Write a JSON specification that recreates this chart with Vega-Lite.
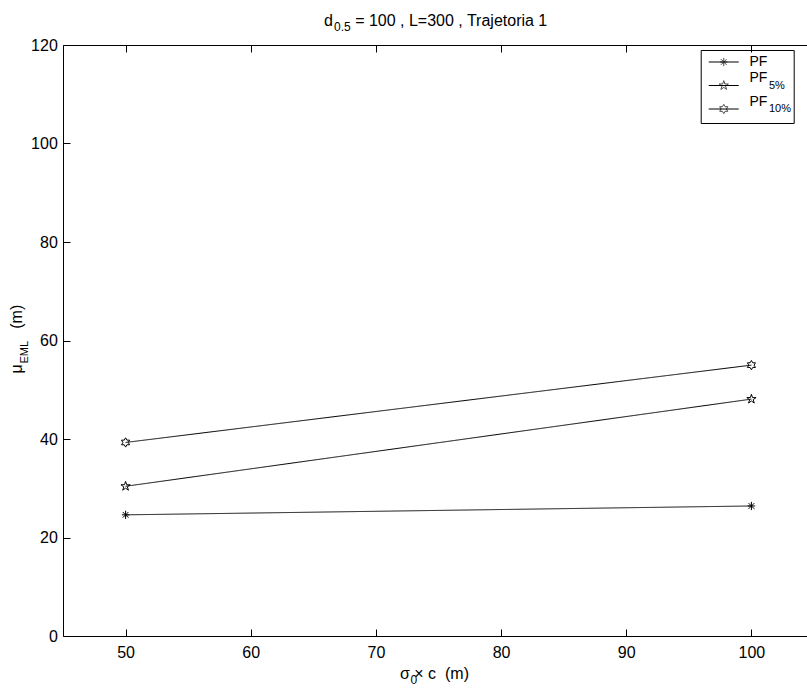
{
  "$schema": "https://vega.github.io/schema/vega-lite/v6.json",
  "width": 751,
  "height": 591,
  "autosize": {"type": "none"},
  "padding": {"left": 63, "top": 45, "right": 0, "bottom": 53},
  "background": "white",
  "config": {
    "font": "Liberation Sans",
    "view": {"stroke": "black", "strokeWidth": 1},
    "axis": {
      "grid": false, "domain": false, "tickColor": "black", "tickSize": -7, "tickWidth": 1,
      "labelColor": "black", "labelFont": "Liberation Sans", "labelFontSize": 16,
      "titleFont": "Liberation Sans", "titleFontSize": 16, "titleFontWeight": "normal", "titleColor": "black",
      "labelFlush": false, "labelOverlap": false
    },
    "legend": {
      "orient": "none", "legendX": 637.7, "legendY": 5, "title": null, "padding": 2,
      "symbolOffset": 11.05, "symbolSize": 342.25, "rowPadding": -0.5, "symbolStrokeWidth": 1,
      "symbolStrokeColor": "black", "symbolFillColor": "transparent",
      "labelFont": "Liberation Sans", "labelColor": "black", "labelBaseline": "middle",
      "labelFontSize": 14, "labelOffset": 15.75
    }
  },
  "title": {
    "text": "d\u00a0\u00a0\u00a0\u00a0\u00a0= 100 , L=300 , Trajetoria 1",
    "subtitle": "\u200b\u00a0\u00a0\u00a00.5",
    "anchor": "start", "frame": "group", "dx": 261, "offset": 4,
    "font": "Liberation Sans", "fontSize": 16, "fontWeight": "normal", "color": "black",
    "subtitleFont": "Liberation Sans", "subtitleFontSize": 12, "subtitleColor": "black", "subtitlePadding": -7
  },
  "data": {
    "values": [
      {"series": "PF", "k": 1, "x": 50, "y": 24.6},
      {"series": "PF", "k": 1, "x": 100, "y": 26.4},
      {"series": "PF5%", "k": 2, "x": 50, "y": 30.4},
      {"series": "PF5%", "k": 2, "x": 100, "y": 48.1},
      {"series": "PF10%", "k": 3, "x": 50, "y": 39.3},
      {"series": "PF10%", "k": 3, "x": 100, "y": 55.0}
    ]
  },
  "layer": [
    {
      "mark": {"type": "line", "strokeWidth": 1},
      "encoding": {
        "x": {
          "field": "x", "type": "quantitative",
          "scale": {"domain": [45, 105], "nice": false, "zero": false},
          "axis": {
            "orient": "bottom", "values": [50, 60, 70, 80, 90, 100], "labelPadding": 15,
            "title": "σ\u00a0× c\u00a0\u00a0(m)", "titleAlign": "left", "titleX": 336.5, "titleY": 37.5, "titleBaseline": "middle"
          }
        },
        "y": {
          "field": "y", "type": "quantitative",
          "scale": {"domain": [0, 120], "nice": false},
          "axis": {
            "orient": "left", "values": [0, 20, 40, 60, 80, 100, 120], "labelPadding": 12.7,
            "title": "μ\u00a0\u00a0\u00a0\u00a0\u00a0\u00a0\u00a0\u00a0(m)", "titleAngle": 270, "titleAlign": "left",
            "titleX": -46.5, "titleY": 328, "titleBaseline": "middle"
          }
        },
        "color": {
          "field": "series", "type": "nominal", "sort": ["PF", "PF5%", "PF10%"],
          "scale": {"range": ["black", "black", "black"]},
          "legend": {
            "rowPadding": -0.5,
            "symbolType": "M-1.622,0H1.622M0,-1L0,-1M0,1L0,1",
            "labelExpr": "datum.value == 'PF' ? 'PF' : ''"
          }
        },
        "strokeDash": {
          "field": "k", "type": "ordinal",
          "scale": {"range": [[1, 0], [1, 0], [1, 0]]},
          "legend": {
            "rowPadding": -0.5, "legendY": -2.5,
            "symbolType": "M0,-1L0,-1M0,1L0,1",
            "labelExpr": "datum.value == 1 ? '' : 'PF'"
          }
        }
      }
    },
    {
      "mark": {"type": "point", "filled": false, "color": "black", "strokeWidth": 1, "size": 342.25},
      "encoding": {
        "x": {
          "field": "x", "type": "quantitative",
          "axis": {
            "orient": "top", "values": [50, 60, 70, 80, 90, 100], "labels": false,
            "title": "0", "titleFontSize": 12, "titleX": 347, "titleY": 634, "titleAlign": "left",
            "titleBaseline": "middle", "titleAngle": 0
          }
        },
        "y": {
          "field": "y", "type": "quantitative",
          "axis": {
            "orient": "right", "values": [0, 20, 40, 60, 80, 100, 120], "labels": false,
            "title": "EML", "titleFontSize": 11, "titleAngle": 270, "titleAlign": "left",
            "titleX": -789.5, "titleY": 318, "titleBaseline": "middle"
          }
        },
        "shape": {
          "field": "series", "type": "nominal",
          "scale": {
            "domain": ["PF", "PF5%", "PF10%"],
            "range": [
              "M0,-0.446V0.446M-0.405,0H0.405M-0.308,-0.308L0.308,0.308M-0.308,0.308L0.308,-0.308M0,-1L0,-1M0,1L0,1",
              "M0,-0.527L0.119,-0.164L0.501,-0.163L0.193,0.062L0.31,0.427L0,0.203L-0.31,0.427L-0.193,0.062L-0.501,-0.163L-0.119,-0.164ZM0,-1L0,-1M0,1L0,1",
              "M0,-0.503L0.145,-0.251L0.436,-0.251L0.29,0L0.436,0.251L0.145,0.251L0,0.503L-0.145,0.251L-0.436,0.251L-0.29,0L-0.436,-0.251L-0.145,-0.251ZM0,-1L0,-1M0,1L0,1"
            ]
          },
          "legend": {
            "rowPadding": -0.5,
            "labelExpr": "''"
          }
        },
        "opacity": {
          "field": "k", "type": "ordinal",
          "scale": {"domain": [1, 2, 3], "range": [1, 1, 1]},
          "legend": {
            "rowPadding": -0.5, "strokeColor": "black",
            "symbolType": "M0,-1L0,-1M0,1L0,1",
            "labelExpr": "datum.value == 2 ? '5%\u00a0\u00a0\u00a0\u00a0\u00a0\u00a0' : datum.value == 3 ? '10%\u00a0\u00a0\u00a0\u00a0\u00a0' : ''",
            "labelFontSize": 11, "labelOffset": 35.25,
            "encode": {"labels": {"update": {"dy": {"value": 6}}}}
          }
        }
      }
    }
  ],
  "resolve": {"axis": {"x": "independent", "y": "independent"}}
}
